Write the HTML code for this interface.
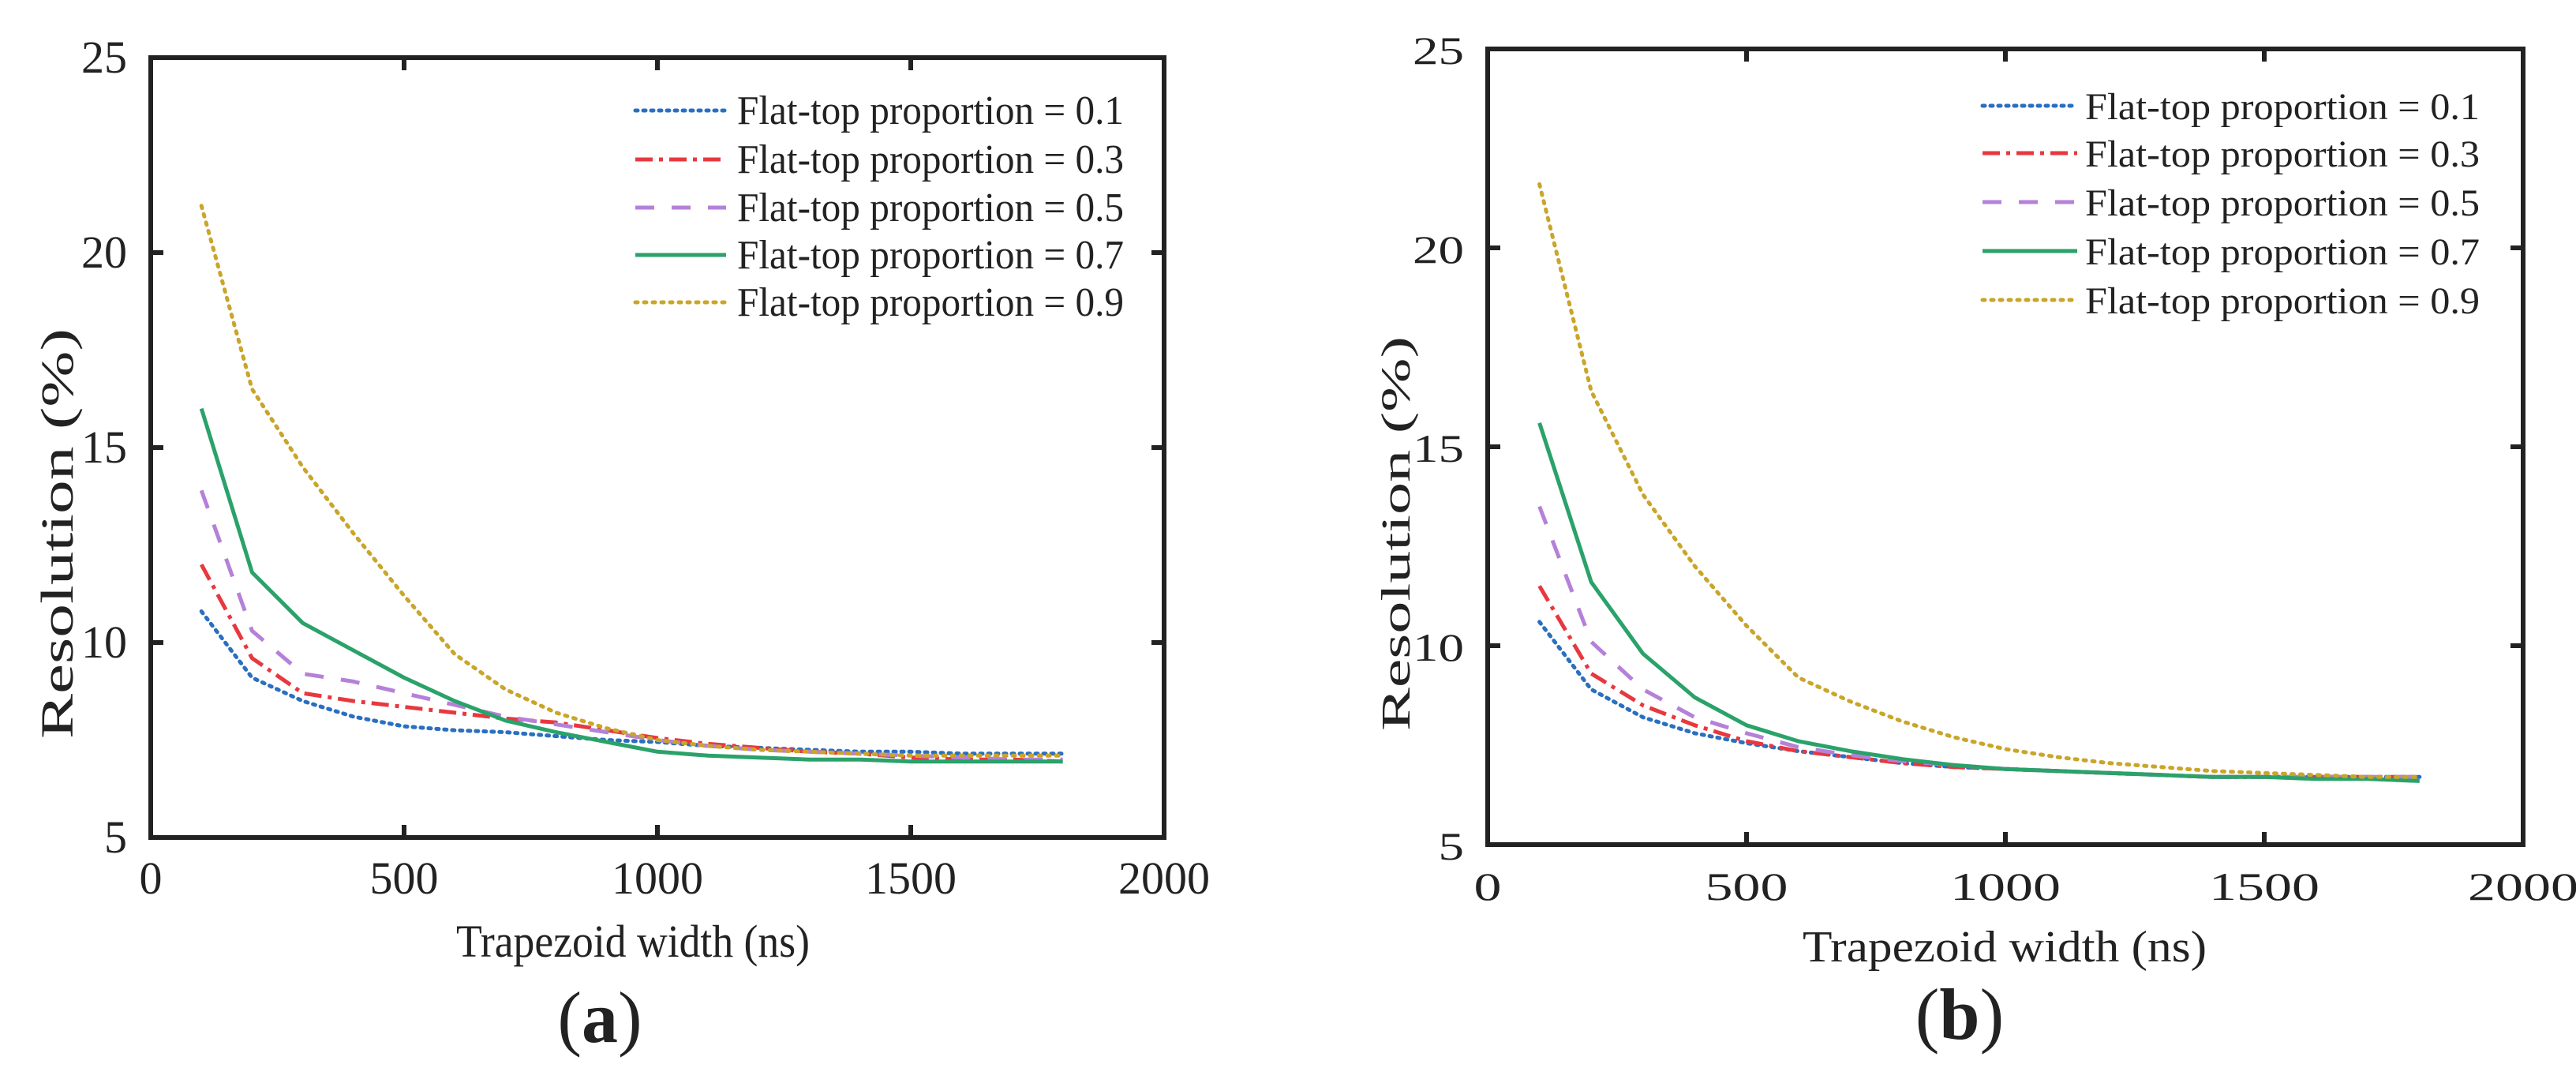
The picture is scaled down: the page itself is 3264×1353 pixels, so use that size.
<!DOCTYPE html>
<html><head><meta charset="utf-8">
<style>
html,body{margin:0;padding:0;background:#fff;}
svg{display:block;}
text{font-family:"Liberation Serif",serif;fill:#222;}
</style></head>
<body>
<svg id="fig" width="3264" height="1353" viewBox="0 0 3264 1353" xmlns="http://www.w3.org/2000/svg"></svg>
<script>
const xVals = [100,200,300,400,500,600,700,800,900,1000,1100,1200,1300,1400,1500,1600,1700,1800];
const seriesLabels = ["Flat-top proportion = 0.1","Flat-top proportion = 0.3","Flat-top proportion = 0.5","Flat-top proportion = 0.7","Flat-top proportion = 0.9"];
const aP01 = [10.8,9.1,8.5,8.1,7.85,7.75,7.7,7.6,7.5,7.45,7.35,7.3,7.25,7.2,7.2,7.15,7.15,7.15];
const aP03 = [12.0,9.6,8.7,8.5,8.35,8.2,8.05,7.95,7.75,7.55,7.4,7.3,7.2,7.15,7.05,7.0,7.0,6.95];
const aP05 = [13.9,10.3,9.2,9.0,8.7,8.4,8.1,7.9,7.7,7.5,7.35,7.25,7.2,7.15,7.1,7.05,7.0,7.0];
const aP07 = [16.0,11.8,10.5,9.8,9.1,8.5,8.0,7.7,7.45,7.2,7.1,7.05,7.0,7.0,6.95,6.95,6.95,6.95];
const aP09 = [21.2,16.5,14.5,12.8,11.2,9.7,8.8,8.2,7.8,7.5,7.35,7.25,7.2,7.15,7.1,7.1,7.1,7.1];
const bP01 = [10.6,8.9,8.2,7.8,7.55,7.35,7.2,7.05,6.95,6.9,6.85,6.8,6.75,6.7,6.7,6.7,6.7,6.7];
const bP03 = [11.5,9.3,8.5,8.0,7.6,7.35,7.2,7.05,6.95,6.9,6.85,6.8,6.75,6.7,6.7,6.7,6.7,6.7];
const bP05 = [13.5,10.1,8.9,8.2,7.8,7.45,7.25,7.1,7.0,6.9,6.85,6.8,6.75,6.7,6.7,6.7,6.7,6.7];
const bP07 = [15.6,11.6,9.8,8.7,8.0,7.6,7.35,7.15,7.0,6.9,6.85,6.8,6.75,6.7,6.7,6.65,6.65,6.6];
const bP09 = [21.6,16.4,13.8,12.0,10.5,9.2,8.6,8.1,7.7,7.4,7.2,7.05,6.95,6.85,6.8,6.75,6.7,6.7];
const xTicks = [0,500,1000,1500,2000];
const yTicks = [5,10,15,20,25];

const NS = "http://www.w3.org/2000/svg";
const svg = document.getElementById('fig');
function mk(tag, attrs, parent){
  const e = document.createElementNS(NS, tag);
  for (const k in attrs) e.setAttribute(k, attrs[k]);
  (parent||svg).appendChild(e);
  return e;
}
const styles = [
  {color:"#2a6fc0", dash:"3 7", cap:"round", w:5},
  {color:"#e8383f", dash:"22 8 5 8", cap:"butt", w:5},
  {color:"#b581d8", dash:"24 22", cap:"butt", w:5},
  {color:"#2aa26a", dash:"", cap:"butt", w:5},
  {color:"#c9a52a", dash:"3 8", cap:"round", w:5}
];

function panel(cfg){
  const g = mk('g', {});
  
  
  const L=cfg.L,R=cfg.R,T=cfg.T,B=cfg.B;
  const sx = v => L + (v-0)/(2000-0)*(R-L);
  const sy = v => B - (v-5)/(25-5)*(B-T);
  cfg.series.forEach((arr,i)=>{
    const st = styles[i];
    const d = arr.map((v,j)=>(j?'L':'M')+sx(xVals[j]).toFixed(1)+' '+sy(v).toFixed(1)).join(' ');
    const p = mk('path',{d:d,fill:'none',stroke:st.color,'stroke-width':st.w,'stroke-dasharray':st.dash,'stroke-linecap':st.cap,'stroke-linejoin':'round'},g);
    
    
  });
  const box = mk('rect',{x:L,y:T,width:R-L,height:B-T,fill:'none',stroke:'#222','stroke-width':6},g);
  
  
  xTicks.forEach(v=>{
    const x = sx(v);
    mk('line',{x1:x,y1:B,x2:x,y2:B-16,stroke:'#222','stroke-width':6},g);
    mk('line',{x1:x,y1:T,x2:x,y2:T+16,stroke:'#222','stroke-width':6},g);
    const t = mk('text',{x:x,y:cfg.xTickY,'text-anchor':'middle','font-size':cfg.fs},g);
    t.textContent = v;
    if (cfg.wide) t.setAttribute('transform',`translate(${x},0) scale(1.4,1) translate(${-x},0)`);
    
    
  });
  yTicks.forEach(v=>{
    const y = sy(v);
    mk('line',{x1:L,y1:y,x2:L+16,y2:y,stroke:'#222','stroke-width':6},g);
    mk('line',{x1:R,y1:y,x2:R-16,y2:y,stroke:'#222','stroke-width':6},g);
    const t = mk('text',{x:L-30,y:y+19,'text-anchor':'end','font-size':cfg.fs},g);
    t.textContent = v;
    if (cfg.wide) t.setAttribute('transform',`translate(${L-30},0) scale(1.3,1) translate(${-(L-30)},0)`);
    
    
  });
  const xt = mk('text',{x:cfg.xtC,y:cfg.xTitleY,'text-anchor':'middle','font-size':cfg.xtFs,textLength:cfg.xtW,lengthAdjust:'spacingAndGlyphs'},g);
  xt.textContent = 'Trapezoid width (ns)';
  
  
  const yt = mk('text',{x:0,y:0,'text-anchor':'middle','font-size':cfg.ytFs,textLength:cfg.ytW,lengthAdjust:'spacingAndGlyphs',transform:`translate(${cfg.yTitleX},${cfg.yTitleC}) rotate(-90)`},g);
  yt.textContent = 'Resolution (%)';
  
  
  seriesLabels.forEach((lab,i)=>{
    const y = cfg.legY[i];
    const st = styles[i];
    const ln = mk('line',{x1:cfg.legX1,y1:y,x2:cfg.legX2,y2:y,stroke:st.color,'stroke-width':st.w,'stroke-dasharray':st.dash,'stroke-linecap':st.cap},g);
    
    
    const t = mk('text',{x:cfg.legTX,y:y+17,'font-size':cfg.legFs,textLength:cfg.legTW,lengthAdjust:'spacingAndGlyphs'},g);
    t.textContent = lab;
    
    
  });
  const cap = mk('text',{x:cfg.capX,y:cfg.capY,'text-anchor':'middle','font-size':92},g);
  cap.innerHTML = '(<tspan font-weight="bold">'+cfg.cap+'</tspan>)';
  
  
}

panel({name:'panel-a',L:191,R:1475,T:73,B:1061,fs:58,wide:false,xTickY:1132,xTitleY:1212,xtFs:58,xtW:448,xtC:802,
  yTitleX:92,yTitleC:676,ytFs:58,ytW:520,
  series:[aP01,aP03,aP05,aP07,aP09],legY:[140,202,263,323,383],legX1:805,legX2:920,legTX:934,legTW:490,legFs:52,
  cap:'a',capX:760,capY:1320});
panel({name:'panel-b',L:1885,R:3197,T:62,B:1070,fs:50,wide:true,xTickY:1140,xTitleY:1218,xtFs:56,xtW:512,xtC:2540,
  yTitleX:1786,yTitleC:676,ytFs:52,ytW:500,
  series:[bP01,bP03,bP05,bP07,bP09],legY:[134,194,256,318,380],legX1:2512,legX2:2632,legTX:2642,legTW:500,legFs:48,
  cap:'b',capX:2483,capY:1316});
</script>
</body></html>
